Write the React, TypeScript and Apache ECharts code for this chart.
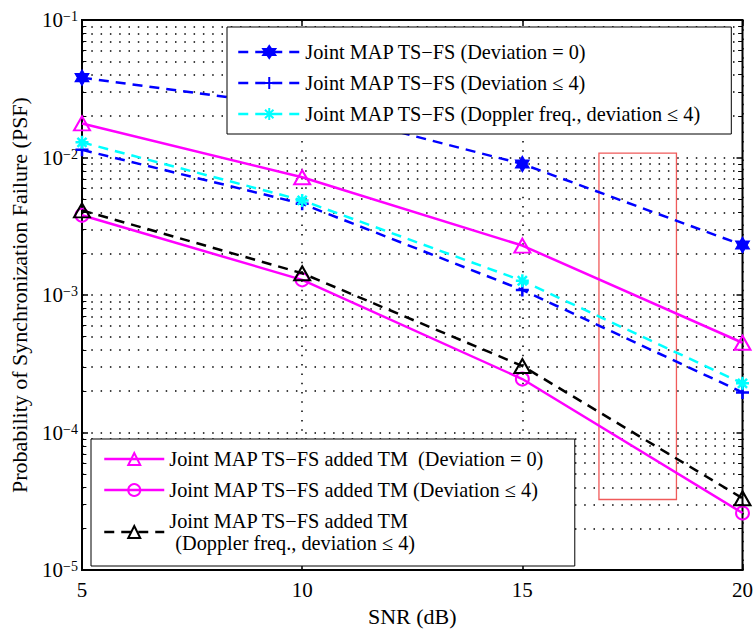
import React, { useEffect, useRef } from 'react';
import * as echarts from 'echarts';

const FONT = '"Liberation Serif", "Times New Roman", serif';

const snr = [5, 10, 15, 20];
const xTicks = [5, 10, 15, 20];
const yTickExponents = [-5, -4, -3, -2, -1];

const psfDev0 = [0.0381, 0.0232, 0.00898, 0.00231];
const psfDev4 = [0.01137, 0.00461, 0.00109, 0.000196];
const psfDopplerDev4 = [0.0129, 0.00488, 0.00127, 0.000228];
const psfTmDev0 = [0.0177, 0.00719, 0.00229, 0.00045];
const psfTmDev4 = [0.0038, 0.00129, 0.000245, 0.000026];
const psfTmDoppler = [0.00413, 0.00144, 0.000305, 0.0000333];

const highlightSnr = [16.74, 18.5];
const highlightPsf = [0.01078, 0.0000326];

const names = [
  'Joint MAP TS−FS (Deviation = 0)',
  'Joint MAP TS−FS (Deviation ≤ 4)',
  'Joint MAP TS−FS (Doppler freq., deviation ≤ 4)',
  'Joint MAP TS−FS added TM  (Deviation = 0)',
  'Joint MAP TS−FS added TM (Deviation ≤ 4)',
  'Joint MAP TS−FS added TM (Doppler freq., deviation ≤ 4)',
];

const HEX = 'path://M0,-10L8.66,5L-8.66,5Z M0,10L-8.66,-5L8.66,-5Z';
const PLUS = 'path://M0,5L10,5M5,0L5,10';
const STAR = 'path://M5,0L5,10M0,5L10,5M1.5,1.5L8.5,8.5M8.5,1.5L1.5,8.5';

const seriesSpec = [
  { name: names[0], values: psfDev0, color: '#0000ff', type: [10, 7], symbol: HEX, size: [14, 16], fill: '#0000ff', bw: 1 },
  { name: names[1], values: psfDev4, color: '#0000ff', type: [10, 7], symbol: PLUS, size: 13, fill: 'transparent', bw: 2.5 },
  { name: names[2], values: psfDopplerDev4, color: '#00ffff', type: [10, 7], symbol: STAR, size: 13, fill: 'transparent', bw: 2.5 },
  { name: names[3], values: psfTmDev0, color: '#ff00ff', type: 'solid', symbol: 'triangle', size: [16, 14], fill: 'transparent', bw: 2 },
  { name: names[4], values: psfTmDev4, color: '#ff00ff', type: 'solid', symbol: 'circle', size: 13, fill: 'transparent', bw: 2 },
  { name: names[5], values: psfTmDoppler, color: '#000000', type: [10, 7], symbol: 'triangle', size: [16, 14], fill: 'transparent', bw: 2 },
];

function buildOption() {
  const minorValues: number[] = [];
  for (let e = yTickExponents[0]; e < yTickExponents[yTickExponents.length - 1]; e++) {
    for (let m = 2; m <= 9; m++) minorValues.push(Number((m * Math.pow(10, e)).toPrecision(6)));
  }
  const xMin = xTicks[0];
  const xMax = xTicks[xTicks.length - 1];
  const tickLen = 0.1;
  const gridDot = { color: '#000', width: 1.5, type: [1.5, 7.8] as number[] };
  const tickStyle = { color: '#000', width: 1, type: 'solid' };

  const markLineData: any[] = [];
  minorValues.forEach((v) => {
    markLineData.push({ yAxis: v, lineStyle: gridDot });
    markLineData.push([
      { coord: [xMin, v], lineStyle: tickStyle },
      { coord: [xMin + tickLen, v] },
    ]);
    markLineData.push([
      { coord: [xMax - tickLen, v], lineStyle: tickStyle },
      { coord: [xMax, v] },
    ]);
  });

  const series: any[] = [
    {
      type: 'line',
      name: '__grid',
      data: [],
      silent: true,
      z: 0,
      markLine: {
        z: 1,
        silent: true,
        precision: 12,
        symbol: 'none',
        label: { show: false },
        animation: false,
        data: markLineData,
      },
    },
  ];

  seriesSpec.forEach((s, i) => {
    series.push({
      type: 'line',
      name: s.name,
      data: snr.map((x, k) => [x, s.values[k]]),
      symbol: s.symbol,
      symbolSize: s.size,
      showAllSymbol: true,
      lineStyle: { color: s.color, width: 2.5, type: s.type },
      itemStyle: { color: s.fill, borderColor: s.color, borderWidth: s.bw },
      z: 3 + i,
      ...(i === 0
        ? {
            markArea: {
              silent: true,
              itemStyle: { color: 'rgba(0,0,0,0)', borderColor: 'rgb(240,90,90)', borderWidth: 1.3 },
              data: [
                [
                  { xAxis: highlightSnr[0], yAxis: highlightPsf[0] },
                  { xAxis: highlightSnr[1], yAxis: highlightPsf[1] },
                ],
              ],
            },
          }
        : {}),
    });
  });

  const legendText = { fontFamily: FONT, fontSize: 20.3, lineHeight: 22, color: '#000' };
  const legendCommon = {
    orient: 'vertical',
    align: 'left',
    selectedMode: false,
    backgroundColor: '#fff',
    borderColor: '#000',
    borderWidth: 1,
    itemHeight: 15,
    itemGap: 9,
    lineStyle: { width: 2.5 },
  };

  return {
    animation: false,
    backgroundColor: '#fff',
    textStyle: { fontFamily: FONT, color: '#000' },
    grid: { left: 81, right: 13, top: 20, bottom: 58, show: true, borderColor: '#000', borderWidth: 2 },
    xAxis: [
      {
        type: 'value',
        min: xMin,
        max: xMax,
        interval: 5,
        name: 'SNR (dB)',
        nameLocation: 'middle',
        nameGap: 31,
        nameTextStyle: { fontFamily: FONT, fontSize: 22, color: '#000' },
        axisLine: { show: true, lineStyle: { color: '#000', width: 2 } },
        axisTick: { show: true, inside: true, length: 6, lineStyle: { color: '#000', width: 1.5 } },
        axisLabel: { fontFamily: FONT, fontSize: 21, color: '#000', margin: 9 },
        splitLine: { show: true, lineStyle: gridDot },
      },
      {
        type: 'value',
        position: 'top',
        min: xMin,
        max: xMax,
        interval: 5,
        axisLine: { show: false },
        axisTick: { show: true, inside: true, length: 6, lineStyle: { color: '#000', width: 1.5 } },
        axisLabel: { show: false },
        splitLine: { show: false },
      },
    ],
    yAxis: [
      {
        type: 'log',
        logBase: 10,
        min: Math.pow(10, yTickExponents[0]),
        max: Math.pow(10, yTickExponents[yTickExponents.length - 1]),
        name: 'Probability of Synchronization Failure (PSF)',
        nameLocation: 'middle',
        nameGap: 52,
        nameTextStyle: { fontFamily: FONT, fontSize: 22, color: '#000' },
        axisLine: { show: true, lineStyle: { color: '#000', width: 2 } },
        axisTick: { show: true, inside: true, length: 6, lineStyle: { color: '#000', width: 1.5 } },
        axisLabel: {
          margin: 4,
          formatter: (v: number) => {
            const e = Math.round(Math.log10(v));
            return `{b|10}{s|${String(e).replace('-', '−')}}`;
          },
          rich: {
            b: { fontFamily: FONT, fontSize: 21, lineHeight: 21, color: '#000', verticalAlign: 'middle' },
            s: { fontFamily: FONT, fontSize: 14, lineHeight: 14, color: '#000', verticalAlign: 'top', padding: [0, 0, 15, 0] },
          },
        },
        splitLine: { show: true, lineStyle: gridDot },
      },
      {
        type: 'log',
        logBase: 10,
        position: 'right',
        min: Math.pow(10, yTickExponents[0]),
        max: Math.pow(10, yTickExponents[yTickExponents.length - 1]),
        axisLine: { show: false },
        axisTick: { show: true, inside: true, length: 6, lineStyle: { color: '#000', width: 1.5 } },
        axisLabel: { show: false },
        splitLine: { show: false },
      },
    ],
    legend: [
      {
        ...legendCommon,
        left: 227,
        top: 27,
        padding: [14, 30, 9, 10],
        itemWidth: 62,
        textStyle: legendText,
        data: names.slice(0, 3),
      },
      {
        ...legendCommon,
        left: 91,
        top: 439,
        padding: [9, 30, 12, 12],
        itemWidth: 60,
        data: names.slice(3, 6),
        formatter: (name: string) =>
          name === names[5]
            ? '{a|Joint MAP TS−FS added TM}\n{c|(Doppler freq., deviation ≤ 4)}'
            : name,
        textStyle: {
          ...legendText,
          rich: {
            a: { ...legendText },
            c: { ...legendText, padding: [0, 0, 0, 6] },
          },
        },
      },
    ],
    series,
  };
}

export default function App() {
  const ref = useRef<HTMLDivElement>(null);
  useEffect(() => {
    document.body.style.margin = '0';
    const chart = echarts.init(ref.current!, null, { renderer: 'svg' });
    chart.setOption(buildOption() as any);
    return () => chart.dispose();
  }, []);
  return <div ref={ref} style={{ width: 756, height: 632, position: 'absolute', left: 0, top: 0 }} />;
}
